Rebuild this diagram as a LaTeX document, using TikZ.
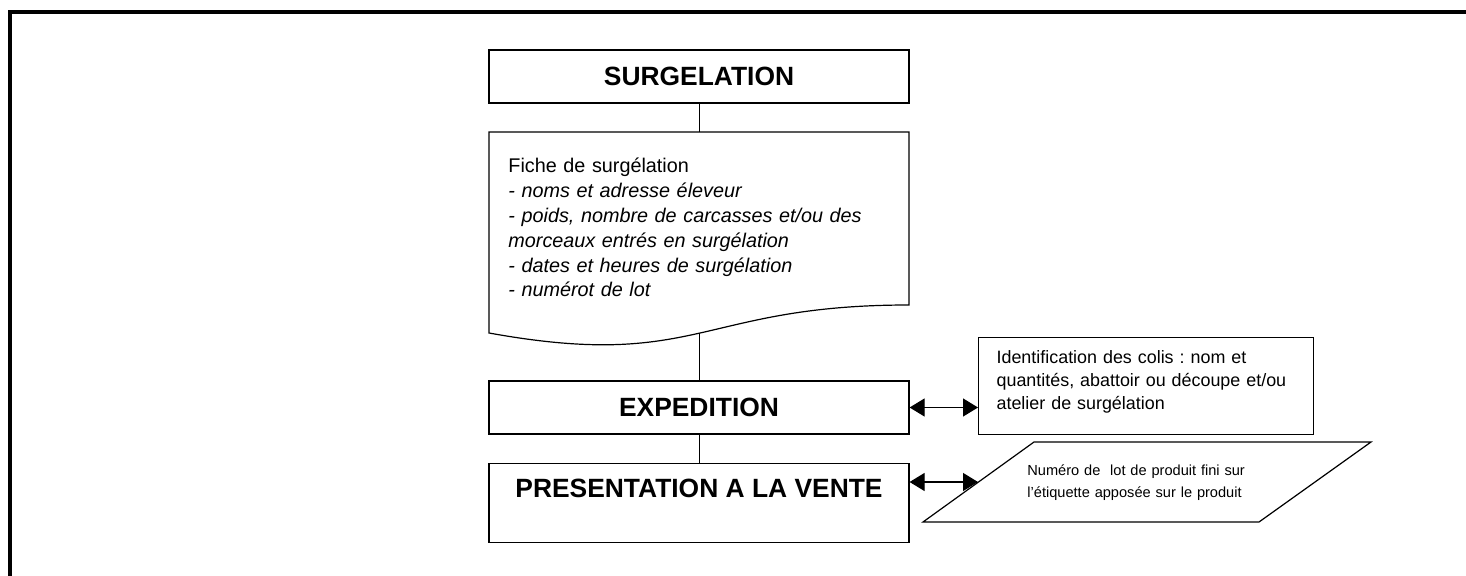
\documentclass[tikz,border=0pt]{standalone}
\usepackage{fontspec}
\setmainfont{Liberation Sans}
\usetikzlibrary{shapes.geometric, arrows.meta, positioning}
\frenchspacing

\begin{document}
\begin{tikzpicture}[x=0.5pt,y=-0.5pt,
  stepbox/.style={draw,line width=0.6pt,minimum width=210pt,inner sep=0pt,
    font=\bfseries\fontsize{13.2}{15}\selectfont},
  notebox/.style={draw,line width=0.6pt,align=left},
  biarrow/.style={<->,>={Triangle[length=7.5pt,width=9pt]},line width=0.6pt}]
\useasboundingbox (0,0) rectangle (1466,576);

% Outer frame (top and left edge only)
\draw[line width=2pt] (10.3,576) -- (10.3,11.7) -- (1466,11.7);

% Main chain
\node[stepbox,minimum height=26.5pt] (surg) at (699,76.5) {SURGELATION};

% Fiche de surgelation (document shape)
\draw[line width=0.6pt] (489,132) -- (909,132) -- (909,305)
  .. controls (699,305) and (699,371) .. (489,333) -- cycle;
\coordinate (fichetop) at (699,132);
\coordinate (fichebot) at (699,333.2);
\node[anchor=base west,inner sep=0pt,text width=195pt,align=left,
  font=\fontsize{9.9}{12.4}\selectfont] (fiche) at (508,173) {Fiche de surgélation\\
  \textit{- noms et adresse éleveur}\\
  \textit{- poids, nombre de carcasses et/ou des}\\
  \textit{morceaux entrés en surgélation}\\
  \textit{- dates et heures de surgélation}\\
  \textit{- numérot de lot}};

\node[stepbox,minimum height=26.5pt] (exped) at (699,407.5) {EXPEDITION};
\node[stepbox,anchor=north,text height=17pt,text depth=22.5pt] (vente) at (699,463) {PRESENTATION A LA VENTE};

\draw[line width=0.5pt] (surg.south) -- (fichetop);
\draw[line width=0.5pt] (fichebot) -- (exped.north);
\draw[line width=0.5pt] (exped.south) -- (vente.north);

% Side notes
\node[notebox,anchor=north west,text width=149.5pt,inner xsep=9pt,inner ysep=6.5pt,
  text height=6.5pt,text depth=29pt,font=\fontsize{8.95}{11.5}\selectfont] (ident) at (978,337)
  {Identification des colis : nom et\\quantités, abattoir ou découpe et/ou\\atelier de surgélation};

% Numero de lot (parallelogram)
\draw[line width=0.6pt] (1034,442) -- (1371,442) -- (1259,522) -- (923,522) -- cycle;
\coordinate (lotin) at (978,482);
\node[anchor=base west,inner sep=0pt,text width=118pt,align=left,
  font=\fontsize{7.3}{11}\selectfont] (numlot) at (1027,476)
  {Numéro de~ lot de produit fini sur\\l'étiquette apposée sur le produit};

\draw[biarrow] (exped.east) -- (exped.east -| ident.west);
\draw[biarrow] (lotin -| vente.east) -- (lotin);
\end{tikzpicture}
\end{document}
